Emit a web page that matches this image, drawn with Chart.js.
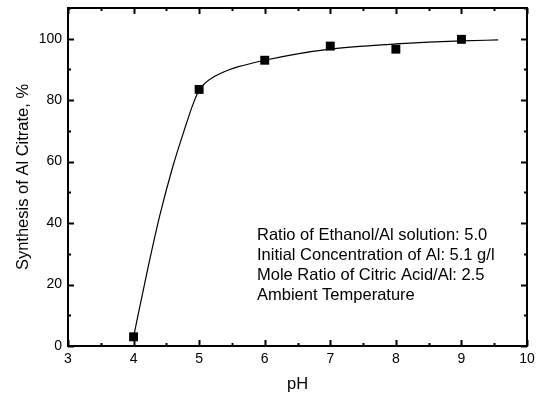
<!DOCTYPE html>
<html>
<head>
<meta charset="utf-8">
<script src="https://cdn.jsdelivr.net/npm/chart.js@4.4.1/dist/chart.umd.min.js"></script>
<style>
  html, body { margin: 0; padding: 0; background: #fff; }
  #wrap { width: 536px; height: 394px; position: relative; }
</style>
</head>
<body>
<div id="wrap"><canvas id="chart"></canvas></div>
<script>
"use strict";

// measured points (pH vs synthesis %)
var phValues = [4, 5, 6, 7, 8, 9];
var synthValues = [3, 83.5, 93, 97.6, 96.6, 99.8];

// fitted curve
var fitX = [4.0, 4.2, 4.4, 4.6, 4.8, 4.9, 5.0, 5.1, 5.2, 5.4, 5.6, 6.0, 6.5, 7.0, 7.5, 8.0, 8.5, 9.0, 9.56];
var fitY = [3, 23.5, 42.5, 58.5, 72, 78.3, 83.3, 85.7, 87.3, 89.4, 90.9, 93, 95.1, 96.6, 97.6, 98.3, 98.9, 99.3, 99.6];

var xTicks = [3, 4, 5, 6, 7, 8, 9, 10];
var yTicks = [0, 20, 40, 60, 80, 100];

var notes = [
  "Ratio of Ethanol/Al solution: 5.0",
  "Initial Concentration of Al: 5.1 g/l",
  "Mole Ratio of Citric Acid/Al: 2.5",
  "Ambient Temperature"
];

var FONT = "'Liberation Sans', Arial, Helvetica, sans-serif";

function toPts(xs, ys) {
  var out = [];
  for (var i = 0; i < xs.length; i++) out.push({x: xs[i], y: ys[i]});
  return out;
}

// frame + inward ticks on all four sides, plus the text block
var framePlugin = {
  id: "frame",
  afterDatasetsDraw: function(chart) {
    var c = chart.ctx, a = chart.chartArea;
    var xs = chart.scales.x, ys = chart.scales.y;
    c.save();
    c.strokeStyle = "#000";
    c.lineWidth = 2;
    c.strokeRect(a.left, a.top, a.right - a.left, a.bottom - a.top);

    c.beginPath();
    for (var v = 3; v <= 10; v += 0.5) {
      var px = Math.round(xs.getPixelForValue(v)) + 0.5;
      var len = (v % 1 === 0) ? 6 : 3;
      c.moveTo(px, a.bottom); c.lineTo(px, a.bottom - len);
      c.moveTo(px, a.top); c.lineTo(px, a.top + len);
    }
    for (var w = 0; w <= 110; w += 10) {
      var py = Math.round(ys.getPixelForValue(w)) + 0.5;
      var l2 = (w % 20 === 0) ? 6 : 3;
      c.moveTo(a.left, py); c.lineTo(a.left + l2, py);
      c.moveTo(a.right, py); c.lineTo(a.right - l2, py);
    }
    c.stroke();

    c.fillStyle = "#000";
    c.font = "16.5px " + FONT;
    c.textBaseline = "middle";
    c.textAlign = "left";
    for (var i = 0; i < notes.length; i++) {
      c.fillText(notes[i], 257, 235 + i * 20.2);
    }
    c.restore();
  }
};

var ctx = document.getElementById("chart").getContext("2d");
var chart = new Chart(ctx, {
  type: "scatter",
  data: {
    datasets: [
      {
        data: toPts(fitX, fitY),
        showLine: true,
        borderColor: "#000",
        borderWidth: 1.2,
        pointRadius: 0,
        cubicInterpolationMode: "monotone",
        fill: false,
        order: 2
      },
      {
        data: toPts(phValues, synthValues),
        showLine: false,
        pointStyle: "rect",
        pointRadius: 6.3,
        pointHoverRadius: 6.3,
        backgroundColor: "#000",
        borderColor: "#000",
        borderWidth: 0,
        order: 1
      }
    ]
  },
  options: {
    responsive: true,
    maintainAspectRatio: false,
    animation: false,
    layout: { padding: { top: 8, right: 9, left: 0, bottom: 0 } },
    plugins: {
      legend: { display: false },
      tooltip: { enabled: false }
    },
    scales: {
      x: {
        type: "linear",
        min: 3,
        max: 10,
        grid: { display: false, drawTicks: false },
        border: { display: false },
        afterBuildTicks: function(s) { s.ticks = xTicks.map(function(v) { return {value: v}; }); },
        afterFit: function(s) { s.height = 48; s.paddingLeft = 0; s.paddingRight = 0; },
        ticks: { color: "#000", padding: 5, font: { family: FONT, size: 14 }, maxRotation: 0 },
        title: { display: true, text: "pH", color: "#000", font: { family: FONT, size: 16.5, lineHeight: 1.2 }, padding: { top: 0, bottom: 0 } }
      },
      y: {
        type: "linear",
        min: 0,
        max: 110,
        grid: { display: false, drawTicks: false },
        border: { display: false },
        afterBuildTicks: function(s) { s.ticks = yTicks.map(function(v) { return {value: v}; }); },
        afterFit: function(s) { s.width = 68; s.paddingTop = 0; s.paddingBottom = 0; },
        ticks: { color: "#000", padding: 6, font: { family: FONT, size: 14 } },
        title: { display: true, text: "Synthesis of Al Citrate, %", color: "#000", font: { family: FONT, size: 16.5, lineHeight: 1.2 }, padding: { top: 14, bottom: 0 } }
      }
    }
  },
  plugins: [framePlugin]
});
</script>
</body>
</html>
